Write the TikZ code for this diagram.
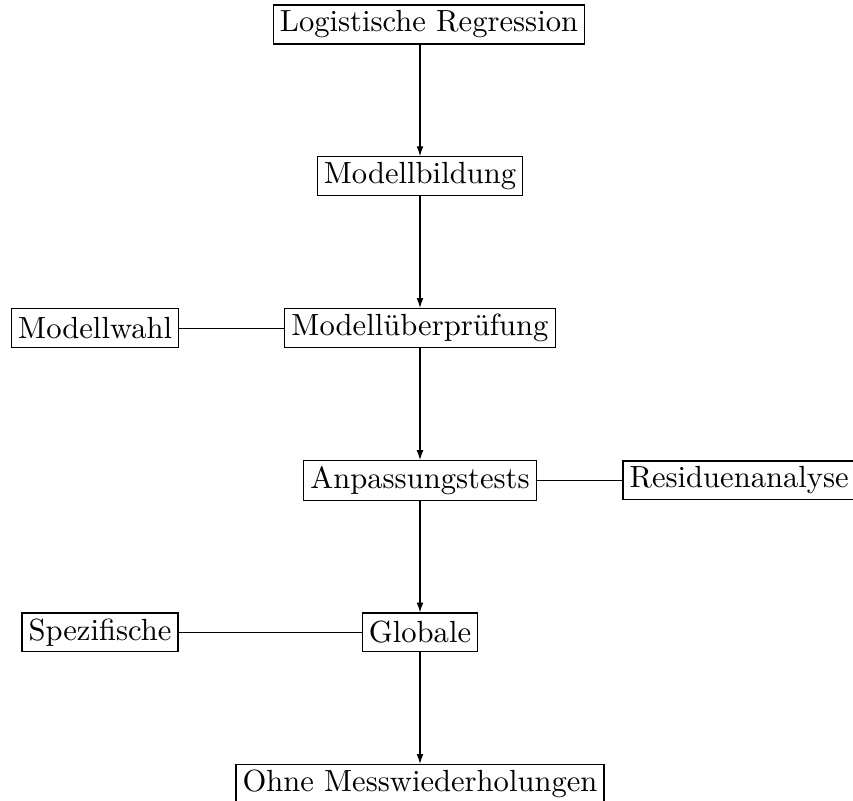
\documentclass[tikz,border=0pt]{standalone}
\usepackage{tikz}
\usetikzlibrary{positioning, arrows.meta}

\begin{document}
\begin{tikzpicture}[node distance=37.2pt and 36pt, >={Latex[length=3.3pt,width=2.3pt]},
  every node/.style={font=\fontsize{10.2}{12.2}\selectfont},
  box/.style={draw, rectangle, inner xsep=2.2pt, inner ysep=1.9pt, minimum height=12.9pt}]

\useasboundingbox (-140pt,8.17pt) rectangle (144.33pt,-258.83pt);

% Main chain
\node (lr) [box] at (3pt,0) {Logistische Regression};
\node (mb) [box, below=of lr, xshift=-3pt] {Modellbildung};
\node (mu) [box, below=of mb] {Modellüberprüfung};
\node (at) [box, below=of mu] {Anpassungstests};
\node (gl) [box, below=of at] {Globale};
\node (oh) [box, below=of gl] {Ohne Messwiederholungen};

% Side nodes
\node (mw) [box, left=35pt of mu] {Modellwahl};
\node (ra) [box, right=28.5pt of at] {Residuenanalyse};
\node (sp) [box, left=61pt of gl] {Spezifische};

% Arrows down the chain
\draw[->] (lr.south -| mb.north) -- (mb.north);
\draw[->] (mb) -- (mu);
\draw[->] (mu) -- (at);
\draw[->] (at) -- (gl);
\draw[->] (gl) -- (oh);

% Side lines
\draw (mw) -- (mu);
\draw (at) -- (ra);
\draw (sp) -- (gl);

\end{tikzpicture}
\end{document}
